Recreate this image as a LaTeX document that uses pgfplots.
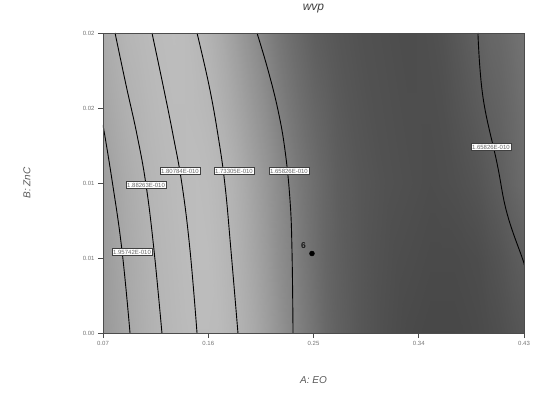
\documentclass[border=0pt]{standalone}
\usepackage{pgfplots}
\pgfplotsset{compat=1.18}
\usepackage{fontspec}
\setmainfont{Liberation Sans}
\begin{document}
\begin{tikzpicture}
\tikzset{clab/.style={fill=white, draw=black!75, line width=0.4pt, inner sep=1.3pt, font=\fontsize{6}{7}\selectfont, text=black!60}}
\begin{axis}[
  at={(0,0)}, anchor=south west,
  scale only axis, width=421pt, height=300pt,
  xmin=0.07, xmax=0.43, ymin=0, ymax=0.02,
  xtick={0.07,0.16,0.25,0.34,0.43},
  xticklabels={0.07,0.16,0.25,0.34,0.43},
  ytick={0,0.005,0.01,0.015,0.02},
  yticklabels={0.00,0.01,0.01,0.02,0.02},
  xtick pos=bottom, ytick pos=left,
  tick align=outside, major tick length=5pt,
  tick style={black!70, line width=0.6pt},
  axis line style={black!70, line width=0.6pt},
  ticklabel style={font=\fontsize{6}{7}\selectfont, text=black!55},
  scaled ticks=false,
  colormap={bw}{rgb255(0cm)=(0,0,0) rgb255(1cm)=(255,255,255)},
  point meta min=0, point meta max=1,
  axis on top,
  title={\textit{wvp}},
  title style={font=\fontsize{12}{14}\selectfont, text=black!75, at={(axis description cs:0.5,1.06)}, anchor=center},
  xlabel={\textit{A: EO}},
  xlabel style={font=\fontsize{10}{12}\selectfont, text=black!65, at={(axis description cs:0.5,-0.157)}, anchor=center},
  ylabel={\textit{B: ZnC}},
  ylabel style={font=\fontsize{10}{12}\selectfont, text=black!65, at={(axis description cs:-0.1805,0.5)}, anchor=center},
]
\addplot[surf, shader=interp, mesh/cols=37, point meta=explicit] table[x=x, y=y, meta=c] {
x y c
0.07 0 0.60
0.08 0 0.625
0.09 0 0.65
0.10 0 0.675
0.11 0 0.695
0.12 0 0.71
0.13 0 0.72
0.14 0 0.73
0.15 0 0.735
0.16 0 0.735
0.17 0 0.73
0.18 0 0.71
0.19 0 0.69
0.20 0 0.66
0.21 0 0.62
0.22 0 0.58
0.23 0 0.535
0.24 0 0.49
0.25 0 0.45
0.26 0 0.41
0.27 0 0.38
0.28 0 0.36
0.29 0 0.34
0.30 0 0.325
0.31 0 0.31
0.32 0 0.30
0.33 0 0.29
0.34 0 0.285
0.35 0 0.28
0.36 0 0.28
0.37 0 0.28
0.38 0 0.285
0.39 0 0.29
0.40 0 0.30
0.41 0 0.31
0.42 0 0.325
0.43 0 0.34
0.07 0.005 0.61
0.08 0.005 0.635
0.09 0.005 0.66
0.10 0.005 0.68
0.11 0.005 0.70
0.12 0.005 0.715
0.13 0.005 0.725
0.14 0.005 0.735
0.15 0.005 0.74
0.16 0.005 0.74
0.17 0.005 0.725
0.18 0.005 0.705
0.19 0.005 0.68
0.20 0.005 0.645
0.21 0.005 0.605
0.22 0.005 0.56
0.23 0.005 0.52
0.24 0.005 0.475
0.25 0.005 0.435
0.26 0.005 0.40
0.27 0.005 0.375
0.28 0.005 0.355
0.29 0.005 0.34
0.30 0.005 0.325
0.31 0.005 0.315
0.32 0.005 0.305
0.33 0.005 0.30
0.34 0.005 0.295
0.35 0.005 0.29
0.36 0.005 0.29
0.37 0.005 0.29
0.38 0.005 0.295
0.39 0.005 0.30
0.40 0.005 0.315
0.41 0.005 0.33
0.42 0.005 0.35
0.43 0.005 0.37
0.07 0.01 0.62
0.08 0.01 0.645
0.09 0.01 0.67
0.10 0.01 0.69
0.11 0.01 0.71
0.12 0.01 0.72
0.13 0.01 0.73
0.14 0.01 0.735
0.15 0.01 0.74
0.16 0.01 0.735
0.17 0.01 0.72
0.18 0.01 0.70
0.19 0.01 0.67
0.20 0.01 0.63
0.21 0.01 0.59
0.22 0.01 0.55
0.23 0.01 0.505
0.24 0.01 0.465
0.25 0.01 0.43
0.26 0.01 0.40
0.27 0.01 0.37
0.28 0.01 0.355
0.29 0.01 0.34
0.30 0.01 0.33
0.31 0.01 0.32
0.32 0.01 0.315
0.33 0.01 0.31
0.34 0.01 0.305
0.35 0.01 0.30
0.36 0.01 0.305
0.37 0.01 0.31
0.38 0.01 0.32
0.39 0.01 0.33
0.40 0.01 0.35
0.41 0.01 0.37
0.42 0.01 0.395
0.43 0.01 0.42
0.07 0.015 0.645
0.08 0.015 0.67
0.09 0.015 0.69
0.10 0.015 0.705
0.11 0.015 0.72
0.12 0.015 0.73
0.13 0.015 0.735
0.14 0.015 0.735
0.15 0.015 0.73
0.16 0.015 0.72
0.17 0.015 0.695
0.18 0.015 0.665
0.19 0.015 0.63
0.20 0.015 0.59
0.21 0.015 0.55
0.22 0.015 0.505
0.23 0.015 0.465
0.24 0.015 0.43
0.25 0.015 0.40
0.26 0.015 0.38
0.27 0.015 0.355
0.28 0.015 0.34
0.29 0.015 0.33
0.30 0.015 0.32
0.31 0.015 0.315
0.32 0.015 0.31
0.33 0.015 0.305
0.34 0.015 0.305
0.35 0.015 0.305
0.36 0.015 0.31
0.37 0.015 0.325
0.38 0.015 0.34
0.39 0.015 0.355
0.40 0.015 0.375
0.41 0.015 0.39
0.42 0.015 0.41
0.43 0.015 0.435
0.07 0.02 0.67
0.08 0.02 0.69
0.09 0.02 0.71
0.10 0.02 0.72
0.11 0.02 0.73
0.12 0.02 0.735
0.13 0.02 0.74
0.14 0.02 0.735
0.15 0.02 0.72
0.16 0.02 0.70
0.17 0.02 0.67
0.18 0.02 0.63
0.19 0.02 0.59
0.20 0.02 0.55
0.21 0.02 0.505
0.22 0.02 0.465
0.23 0.02 0.43
0.24 0.02 0.40
0.25 0.02 0.37
0.26 0.02 0.355
0.27 0.02 0.34
0.28 0.02 0.33
0.29 0.02 0.32
0.30 0.02 0.315
0.31 0.02 0.31
0.32 0.02 0.305
0.33 0.02 0.30
0.34 0.02 0.305
0.35 0.02 0.31
0.36 0.02 0.32
0.37 0.02 0.34
0.38 0.02 0.36
0.39 0.02 0.38
0.40 0.02 0.40
0.41 0.02 0.41
0.42 0.02 0.43
0.43 0.02 0.45
};
% contour lines
\addplot[black, line width=0.9pt, smooth, tension=0.7] coordinates {(0.0700,0.01387) (0.0777,0.0102) (0.0862,0.00553) (0.0931,0)};
\addplot[black, line width=0.9pt, smooth, tension=0.7] coordinates {(0.0803,0.02) (0.0897,0.01653) (0.0991,0.0132) (0.1068,0.00987) (0.1136,0.00553) (0.1204,0)};
\addplot[black, line width=0.9pt, smooth, tension=0.7] coordinates {(0.1119,0.02) (0.1213,0.01653) (0.1299,0.0132) (0.1376,0.00987) (0.1444,0.00553) (0.1504,0)};
\addplot[black, line width=0.9pt, smooth, tension=0.7] coordinates {(0.1504,0.02) (0.1606,0.01653) (0.1683,0.0132) (0.1743,0.00987) (0.1794,0.00553) (0.1854,0)};
\addplot[black, line width=0.9pt, smooth, tension=0.7] coordinates {(0.2017,0.02) (0.2111,0.01753) (0.2196,0.01487) (0.2256,0.0122) (0.2299,0.00887) (0.2316,0.00553) (0.2325,0)};
\addplot[black, line width=0.9pt, smooth, tension=0.7] coordinates {(0.3906,0.02) (0.3949,0.01573) (0.4069,0.01133) (0.4154,0.0080) (0.4291,0.00487) (0.4300,0.0046)};
% contour labels
\node[clab] at (axis cs:0.0948,0.0054) {1.95742E-010};
\node[clab] at (axis cs:0.1068,0.00987) {1.88263E-010};
\node[clab] at (axis cs:0.1358,0.0108) {1.80784E-010};
\node[clab] at (axis cs:0.1820,0.0108) {1.73305E-010};
\node[clab] at (axis cs:0.2290,0.0108) {1.65826E-010};
\node[clab] at (axis cs:0.4017,0.0124) {1.65826E-010};
% design point
\addplot[only marks, mark=*, mark size=2.5pt, black] coordinates {(0.2487,0.0053)};
\node[font=\fontsize{8.5}{9}\selectfont\bfseries, text=black!90] at (axis cs:0.2415,0.0058) {6};
\end{axis}
\path (0,0) ++(-103pt,-66pt) rectangle ++(534pt,399pt);
\end{tikzpicture}
\end{document}
